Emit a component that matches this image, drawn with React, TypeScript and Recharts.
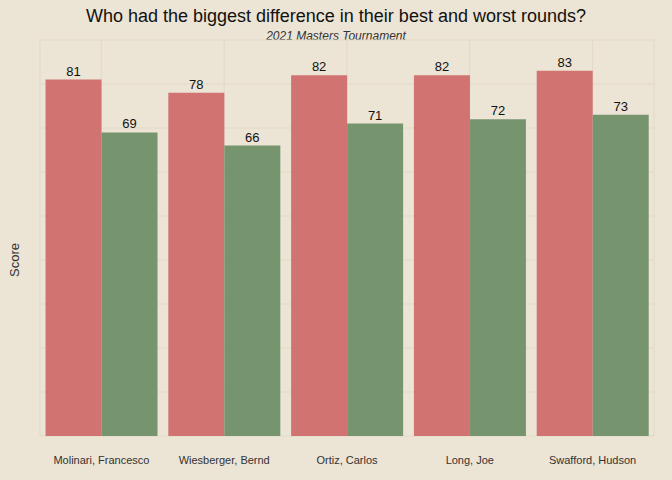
import { BarChart, Bar, XAxis, YAxis, CartesianGrid, LabelList } from 'recharts';

const players = ["Molinari, Francesco", "Wiesberger, Bernd", "Ortiz, Carlos", "Long, Joe", "Swafford, Hudson"]
const worst = [81, 78, 82, 82, 83]
const best = [69, 66, 71, 72, 73]
const yTicks = [0, 10, 20, 30, 40, 50, 60, 70, 80, 90]

const data = players.map((p, i) => ({ player: p, worst: worst[i], best: best[i] }))

export default function App() {
    return (
        <div style={{ position: 'absolute', left: 0, top: 0, width: 672, height: 480, background: '#ECE4D4', fontFamily: 'Arial, "Liberation Sans", sans-serif' }}>
            <div style={{ position: 'absolute', top: 6, width: 672, textAlign: 'center', fontSize: 18, color: '#111' }}>
                Who had the biggest difference in their best and worst rounds?
            </div>
            <div style={{ position: 'absolute', top: 29, width: 672, textAlign: 'center', fontSize: 12, fontStyle: 'italic', color: '#333' }}>
                2021 Masters Tournament
            </div>
            <div style={{ position: 'absolute', left: 14, top: 260, transform: 'translate(-50%, -50%) rotate(-90deg)', fontSize: 13, color: '#333' }}>
                Score
            </div>
            <BarChart width={672} height={480} data={data} barGap={0} barCategoryGap="4.5%"
                margin={{ top: 40, right: 18, bottom: 8, left: 40 }}>
                <CartesianGrid stroke="#E2D9C8" strokeWidth={1} />
                <XAxis dataKey="player" axisLine={false} tickLine={false} interval={0}
                    tick={{ fontSize: 11, fill: '#333' }} height={36} tickMargin={14} />
                <YAxis domain={[0, 90]} ticks={yTicks} hide />
                <Bar dataKey="worst" fill="#D07371" isAnimationActive={false}>
                    <LabelList dataKey="worst" position="top" fill="#111" fontSize={13} offset={4} />
                </Bar>
                <Bar dataKey="best" fill="#76956F" isAnimationActive={false}>
                    <LabelList dataKey="best" position="top" fill="#111" fontSize={13} offset={4} />
                </Bar>
            </BarChart>
        </div>
    )
}
